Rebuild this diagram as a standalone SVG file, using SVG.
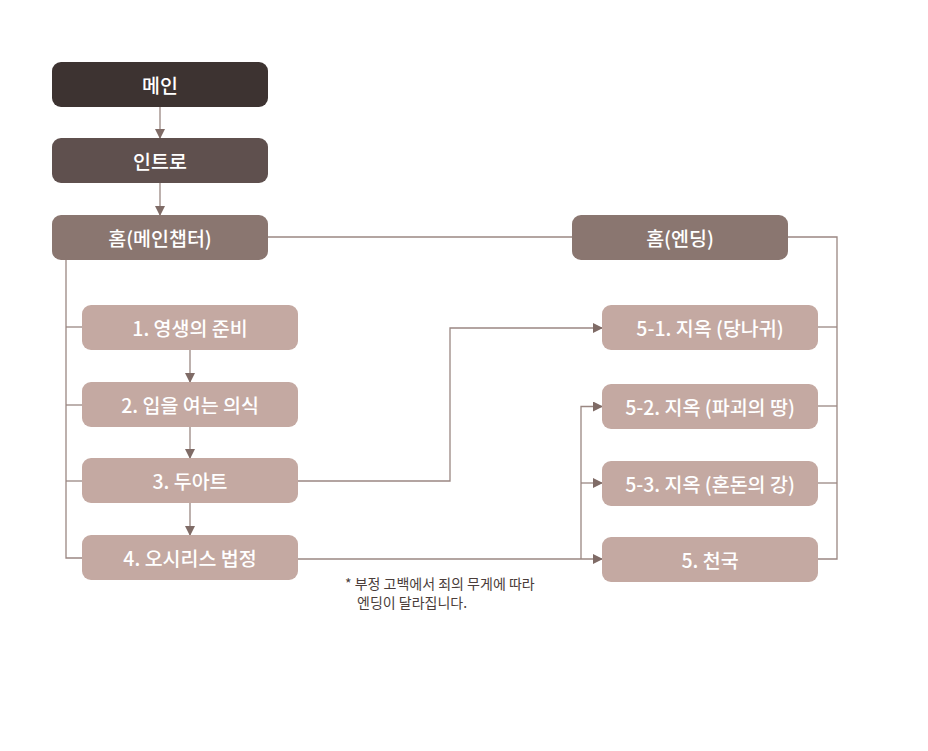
<svg xmlns="http://www.w3.org/2000/svg" width="928" height="751" viewBox="0 0 928 751">
<defs>
<marker id="ah" markerWidth="10" markerHeight="10" refX="9" refY="5" orient="auto" markerUnits="userSpaceOnUse">
<path d="M0,0 L10,5 L0,10 Z" fill="#7f6b66"/>
</marker>
<style>
.n text{font-family:"Noto Sans CJK KR","Noto Sans",sans-serif;font-size:19.5px;font-weight:500;fill:#ffffff;text-anchor:middle;dominant-baseline:central}
.c1{fill:#3d3331}
.c2{fill:#5f504e}
.c3{fill:#8a7670}
.c4{fill:#c4a9a2}
.con path,.con line{fill:none;stroke:#9a8782;stroke-width:1.3}
.note{font-family:"Noto Sans CJK KR","Noto Sans",sans-serif;font-size:14px;fill:#4a3d3a}
</style>
</defs>
<rect width="928" height="751" fill="#ffffff"/>
<g class="con">
<line x1="160" y1="107" x2="160" y2="138" marker-end="url(#ah)"/>
<line x1="160" y1="183" x2="160" y2="215" marker-end="url(#ah)"/>
<path d="M66,260 V558 H82"/>
<line x1="66" y1="327" x2="82" y2="327"/>
<line x1="66" y1="405" x2="82" y2="405"/>
<line x1="66" y1="481" x2="82" y2="481"/>
<line x1="190" y1="350" x2="190" y2="382" marker-end="url(#ah)"/>
<line x1="190" y1="427" x2="190" y2="458" marker-end="url(#ah)"/>
<line x1="190" y1="503" x2="190" y2="535" marker-end="url(#ah)"/>
<line x1="268" y1="237" x2="572" y2="237"/>
<path d="M788,237 H837 V559 H818"/>
<line x1="818" y1="327" x2="837" y2="327"/>
<line x1="818" y1="406" x2="837" y2="406"/>
<line x1="818" y1="483" x2="837" y2="483"/>
<path d="M298,481 H450 V328 H602" marker-end="url(#ah)"/>
<path d="M298,559 H602" marker-end="url(#ah)"/>
<path d="M581,559 V406.5 H602" marker-end="url(#ah)"/>
<path d="M581,483 H602" marker-end="url(#ah)"/>
</g>
<g id="main" class="n"><rect class="c1" x="52" y="62" width="216" height="45" rx="9"/><text x="160" y="84.5">메인</text></g>
<g id="intro" class="n"><rect class="c2" x="52" y="138" width="216" height="45" rx="9"/><text x="160" y="160.5">인트로</text></g>
<g id="home-main" class="n"><rect class="c3" x="52" y="215" width="216" height="45" rx="9"/><text x="160" y="237.5">홈(메인챕터)</text></g>
<g id="home-ending" class="n"><rect class="c3" x="572" y="215" width="216" height="45" rx="9"/><text x="680" y="237.5">홈(엔딩)</text></g>
<g id="ch1" class="n"><rect class="c4" x="82" y="305" width="216" height="45" rx="9"/><text x="190" y="327.5">1. 영생의 준비</text></g>
<g id="ch2" class="n"><rect class="c4" x="82" y="382" width="216" height="45" rx="9"/><text x="190" y="404.5">2. 입을 여는 의식</text></g>
<g id="ch3" class="n"><rect class="c4" x="82" y="458" width="216" height="45" rx="9"/><text x="190" y="480.5">3. 두아트</text></g>
<g id="ch4" class="n"><rect class="c4" x="82" y="535" width="216" height="45" rx="9"/><text x="190" y="557.5">4. 오시리스 법정</text></g>
<g id="e51" class="n"><rect class="c4" x="602" y="305" width="216" height="45" rx="9"/><text x="710" y="327.5">5-1. 지옥 (당나귀)</text></g>
<g id="e52" class="n"><rect class="c4" x="602" y="384" width="216" height="45" rx="9"/><text x="710" y="406.5">5-2. 지옥 (파괴의 땅)</text></g>
<g id="e53" class="n"><rect class="c4" x="602" y="461" width="216" height="45" rx="9"/><text x="710" y="483.5">5-3. 지옥 (혼돈의 강)</text></g>
<g id="e5" class="n"><rect class="c4" x="602" y="537" width="216" height="45" rx="9"/><text x="710" y="559.5">5. 천국</text></g>
<g id="note">
<text class="note" x="345" y="589">* 부정 고백에서 죄의 무게에 따라</text>
<text class="note" x="357" y="608">엔딩이 달라집니다.</text>
</g>
</svg>
